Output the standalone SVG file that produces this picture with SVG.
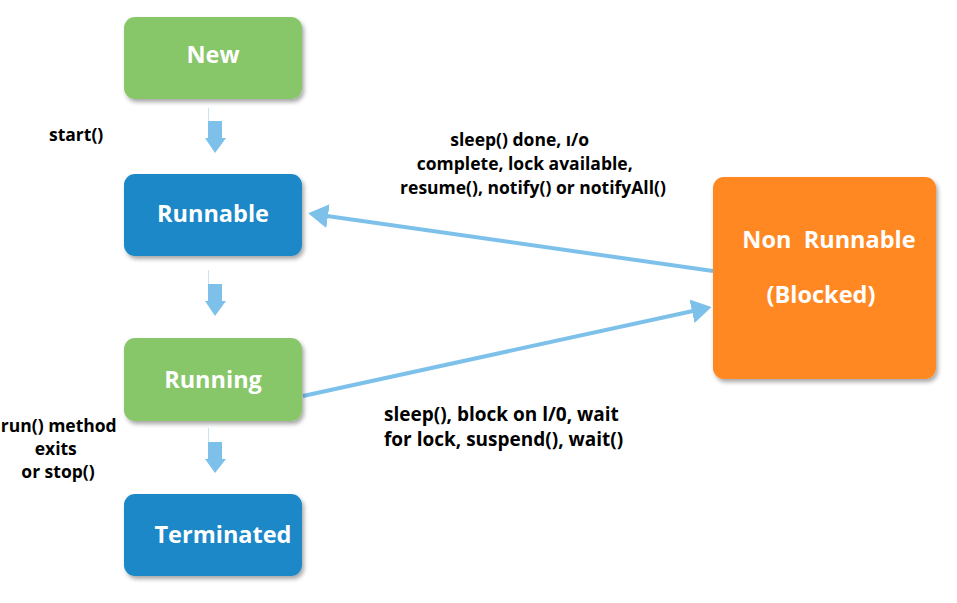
<svg xmlns="http://www.w3.org/2000/svg" width="957" height="603" viewBox="0 0 957 603">
<defs>
<filter id="sh" x="-10%" y="-10%" width="125%" height="130%">
<feDropShadow dx="2" dy="3" stdDeviation="2" flood-color="#000" flood-opacity="0.35"/>
</filter>
<marker id="ah" viewBox="0 0 20 24" refX="1" refY="12" markerWidth="20" markerHeight="24" markerUnits="userSpaceOnUse" orient="auto">
<path d="M0,0 L20,12 L0,24 z" fill="#7dc1eb"/>
</marker>
</defs>
<style>
.box{filter:url(#sh)}
.green{fill:#88c66a}
.blue{fill:#1e88c8}
.orange{fill:#ff8820}
.nt{font-family:"Open Sans","Noto Sans",sans-serif;font-weight:700;font-size:23.5px;fill:#fff}
.lb{font-family:"Open Sans","Noto Sans",sans-serif;font-weight:700;font-size:17.5px;fill:#000}
.lb2{font-family:"Open Sans","Noto Sans",sans-serif;font-weight:700;font-size:19px;fill:#000}
.conn{stroke:#7dc1eb;stroke-width:4;fill:none}
.blk{fill:#7dc1eb}
.thin{stroke:#c7e3f5;stroke-width:1}
</style>
<rect width="957" height="603" fill="#fff"/>
<g id="connectors">
<line class="conn" x1="713" y1="271" x2="327" y2="216" marker-end="url(#ah)"/>
<line class="conn" x1="303" y1="396" x2="693" y2="311" marker-end="url(#ah)"/>
<g id="arrow-new-runnable">
<line class="thin" x1="208.5" y1="108" x2="208.5" y2="121"/>
<path class="blk" d="M208,121 H222 V138 H226 L215,153 L205,138 H208 Z"/>
</g>
<g id="arrow-runnable-running">
<line class="thin" x1="208.5" y1="270" x2="208.5" y2="284"/>
<path class="blk" d="M208,284 H222 V301 H226 L215,316 L205,301 H208 Z"/>
</g>
<g id="arrow-running-terminated">
<line class="thin" x1="208.5" y1="428" x2="208.5" y2="442"/>
<path class="blk" d="M208,442 H222 V459 H226 L215,473 L205,459 H208 Z"/>
</g>
</g>
<g id="node-new">
<rect class="box green" x="124" y="17" width="178" height="82" rx="11"/>
<text class="nt" x="213" y="63" text-anchor="middle">New</text>
</g>
<g id="node-runnable">
<rect class="box blue" x="124" y="174" width="178" height="82" rx="11"/>
<text class="nt" x="213" y="222" text-anchor="middle">Runnable</text>
</g>
<g id="node-running">
<rect class="box green" x="124" y="338" width="178" height="83" rx="11"/>
<text class="nt" x="213" y="388" text-anchor="middle">Running</text>
</g>
<g id="node-terminated">
<rect class="box blue" x="124" y="494" width="178" height="82" rx="11"/>
<text class="nt" x="223" y="543" text-anchor="middle">Terminated</text>
</g>
<g id="node-nonrunnable">
<rect class="box orange" x="713" y="177" width="223" height="202" rx="11"/>
<text class="nt" x="829" y="248" text-anchor="middle" xml:space="preserve">Non  Runnable</text>
<text class="nt" x="821" y="303" text-anchor="middle">(Blocked)</text>
</g>
<g id="labels">
<text class="lb" x="49" y="141">start()</text>
<text class="lb" text-anchor="middle">
<tspan x="522" y="146">sleep() done, ı/o</tspan>
<tspan x="527" y="170">complete, lock available,</tspan>
<tspan x="533" y="194">resume(), notify() or notifyAll()</tspan>
</text>
<text class="lb2">
<tspan x="384" y="421">sleep(), block on l/0, wait</tspan>
<tspan x="384" y="446">for lock, suspend(), wait()</tspan>
</text>
<text class="lb" text-anchor="middle">
<tspan x="61" y="432">run() method</tspan>
<tspan x="58" y="455">exits</tspan>
<tspan x="58" y="478">or stop()</tspan>
</text>
</g>
</svg>
